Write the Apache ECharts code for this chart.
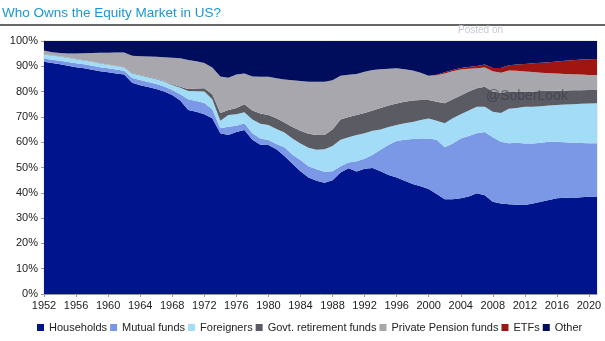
<!DOCTYPE html>
<html>
<head>
<meta charset="utf-8">
<script src="https://cdn.jsdelivr.net/npm/echarts@6/dist/echarts.min.js"></script>
<style>html,body{margin:0;padding:0;background:#fff;}#c{width:605px;height:341px;}</style>
</head>
<body>
<div id="c"></div>
<script>
const years = ['1952','1953','1954','1955','1956','1957','1958','1959','1960','1961','1962','1963','1964','1965','1966','1967','1968','1969','1970','1971','1972','1973','1974','1975','1976','1977','1978','1979','1980','1981','1982','1983','1984','1985','1986','1987','1988','1989','1990','1991','1992','1993','1994','1995','1996','1997','1998','1999','2000','2001','2002','2003','2004','2005','2006','2007','2008','2009','2010','2011','2012','2013','2014','2015','2016','2017','2018','2019','2020','2021'];
const households = [91.8,91.3,90.8,90.2,89.6,89.2,88.6,88.0,87.6,87.2,86.8,83.5,82.5,81.8,81.0,80.0,78.7,76.5,72.7,72.0,71.0,69.5,63.5,62.8,64.0,64.8,61.0,59.0,58.9,57.2,54.5,51.5,48.5,46.0,44.8,44.0,45.0,48.0,49.7,48.4,49.5,49.8,48.5,47.0,46.0,44.8,43.5,42.6,41.5,39.5,37.5,37.5,37.8,38.5,39.8,39.0,36.5,35.8,35.5,35.3,35.2,35.8,36.5,37.2,37.8,38.0,37.9,38.2,38.4,38.5];
const mutualFunds = [1.3,1.3,1.4,1.5,1.6,1.6,1.6,1.6,1.6,1.5,1.4,1.9,2.1,2.0,2.0,2.0,1.9,2.5,4.3,4.3,4.5,3.5,2.0,3.3,2.5,2.7,2.5,2.5,2.0,2.1,3.5,3.5,4.5,4.5,4.5,4.3,3.5,2.5,2.3,4.1,4.0,5.2,8.5,12.0,14.5,16.2,17.8,18.9,20.0,21.5,20.5,22.0,23.7,24.0,23.7,25.0,25.5,24.4,24.1,24.5,24.3,23.7,23.3,23.0,22.4,22.0,21.9,21.5,21.2,21.1];
const foreigners = [1.6,1.7,1.7,1.7,1.6,1.5,1.6,1.5,1.4,1.4,1.3,1.8,1.9,1.9,1.9,2.0,2.0,2.5,3.2,3.8,4.5,4.0,3.0,4.7,4.5,4.3,5.5,5.8,5.9,5.9,5.8,6.5,6.5,7.3,7.7,8.9,10.0,10.5,10.0,10.3,10.0,9.5,8.0,7.0,6.3,6.5,6.7,7.3,7.9,7.5,9.5,10.0,9.5,10.0,10.5,10.0,10.0,11.3,13.6,13.7,14.5,14.5,14.4,14.3,14.5,14.9,15.2,15.5,15.7,15.8];
const govtRetirement = [0.1,0.1,0.1,0.1,0.1,0.1,0.1,0.1,0.1,0.1,0.1,0.2,0.2,0.2,0.2,0.2,0.3,0.4,0.8,1.1,1.3,2.0,3.0,1.9,2.5,3.2,3.5,4.0,4.0,4.3,4.0,4.5,5.0,5.5,5.8,5.6,6.5,8.0,8.0,8.0,8.0,8.0,8.5,8.5,8.5,8.5,8.5,7.9,7.3,7.5,7.9,7.5,7.5,7.5,7.3,7.9,8.0,8.0,6.8,6.5,6.0,6.0,6.0,5.8,5.6,5.5,5.5,5.3,5.3,5.2];
const privatePension = [1.4,1.2,1.3,1.6,2.2,2.8,3.4,4.2,4.7,5.3,5.9,6.8,7.3,8.0,8.7,9.4,10.5,11.3,11.5,10.8,10.0,10.5,14.5,12.8,13.3,12.2,13.5,14.6,15.1,15.8,17.0,18.5,19.7,20.6,21.1,21.1,19.5,17.3,16.7,16.2,16.3,16.0,15.3,14.5,13.9,12.8,11.8,10.8,9.6,10.5,11.8,11.0,10.2,9.0,7.9,7.6,8.0,8.0,8.3,8.2,7.9,7.7,7.3,7.0,6.9,6.6,6.4,6.3,6.0,6.0];
const etfs = [0,0,0,0,0,0,0,0,0,0,0,0,0,0,0,0,0,0,0,0,0,0,0,0,0,0,0,0,0,0,0,0,0,0,0,0,0,0,0,0,0,0,0,0,0,0,0,0,0,0.2,0.4,0.5,0.6,0.7,0.9,1.2,1.3,1.8,2.1,2.5,3.0,3.5,3.9,4.3,4.7,5.2,5.5,5.9,6.2,6.3];
const other = [3.8,4.4,4.7,4.9,4.9,4.8,4.7,4.6,4.6,4.5,4.5,5.8,6.0,6.1,6.2,6.4,6.6,6.8,7.5,8.0,8.7,10.5,14.0,14.5,13.2,12.8,14.0,14.1,14.1,14.7,15.2,15.5,15.8,16.1,16.1,16.1,15.5,13.7,13.3,13.0,12.2,11.5,11.2,11.0,10.8,11.2,11.7,12.5,13.7,13.3,12.4,11.5,10.7,10.3,9.9,9.3,10.7,10.7,9.6,9.3,9.1,8.8,8.6,8.4,8.1,7.8,7.6,7.3,7.2,7.1];
const seriesNames = ['Households','Mutual funds','Foreigners','Govt. retirement funds','Private Pension funds','ETFs','Other'];
const seriesValues = [households, mutualFunds, foreigners, govtRetirement, privatePension, etfs, other];
const colors = ['#00148e','#7a98e6','#a2dcf7','#5b5b63','#a8a7ae','#a01512','#000d5c'];

const chart = echarts.init(document.getElementById('c'));
const series = seriesNames.map((name, i) => ({
  name: name,
  type: 'line',
  stack: 'total',
  symbol: 'none',
  lineStyle: { width: 0 },
  areaStyle: { color: colors[i], opacity: 1 },
  itemStyle: { color: colors[i] },
  data: seriesValues[i]
}));

chart.setOption({
  animation: false,
  title: {
    text: 'Who Owns the Equity Market in US?',
    left: 2, top: 6, padding: 0,
    textStyle: { fontFamily: 'Liberation Sans, Arial', fontSize: 13.5, fontWeight: 'normal', color: '#1a96d4' }
  },
  grid: { left: 44, right: 8, top: 41, bottom: 47, show: true, borderColor: '#dddddd', borderWidth: 1 },
  legend: {
    bottom: 8, left: 37, width: 590, padding: 0,
    icon: 'rect', itemWidth: 7, itemHeight: 7, itemGap: 3,
    textStyle: { fontFamily: 'Liberation Sans, Arial', fontSize: 11, color: '#222' },
    data: seriesNames
  },
  xAxis: {
    type: 'category', boundaryGap: false, data: years,
    axisLine: { show: true, lineStyle: { color: '#999' } },
    axisTick: { show: true, length: 3, interval: 3, lineStyle: { color: '#999' } },
    splitLine: { show: false },
    axisLabel: {
      interval: 3,
      margin: 6,
      fontFamily: 'Liberation Sans, Arial', fontSize: 11, color: '#222'
    }
  },
  yAxis: {
    type: 'value', min: 0, max: 100, interval: 10,
    axisLine: { show: true, lineStyle: { color: '#999' } },
    axisTick: { show: true, length: 3, lineStyle: { color: '#999' } },
    splitLine: { show: false },
    axisLabel: { margin: 6, fontFamily: 'Liberation Sans, Arial', fontSize: 11, color: '#222', formatter: '{value}%' }
  },
  graphic: [
    { type: 'rect', shape: { x: 0, y: 24, width: 605, height: 2 }, style: { fill: '#666' }, z: 10 },
    { type: 'text', left: 458, top: 25, style: { text: 'Posted on', fill: '#c3c9d6', font: '10px Liberation Sans, Arial' }, z: 10 },
    { type: 'text', left: 486, top: 89, style: { text: '@SoberLook', fill: 'rgba(55,55,75,0.6)', font: '14px Liberation Sans, Arial' }, z: 10 }
  ],
  series: series
});
</script>
</body>
</html>
